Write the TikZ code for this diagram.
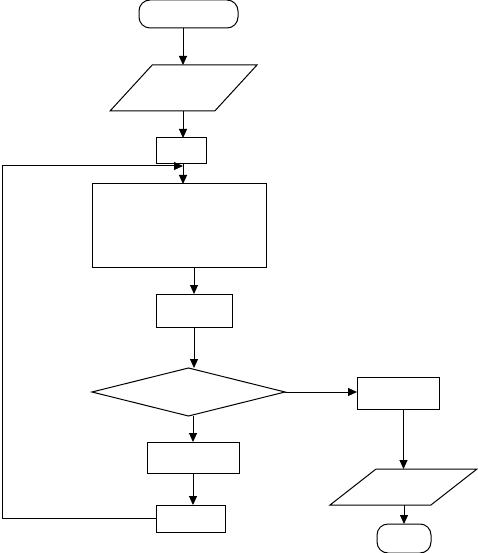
\documentclass[tikz,border=0pt]{standalone}
\usepackage{tikz}
\usetikzlibrary{arrows.meta,shapes.geometric,positioning,calc}
\tikzset{every picture/.style={line width=1pt}}
\tikzset{
    block/.style={draw, rectangle, inner sep=0pt, outer sep=0pt},
    term/.style={draw, rectangle, rounded corners=11pt, inner sep=0pt, outer sep=0pt},
    io/.style={draw, trapezium, trapezium stretches=true, inner sep=2pt, outer sep=0pt},
    test/.style={draw, diamond, inner sep=2pt, outer sep=0pt},
    arr/.style={-{Triangle[length=9pt,width=8pt]}},
}

\begin{document}
\begin{tikzpicture}[x=1pt,y=-1pt]
    \useasboundingbox (0,0) rectangle (478,553);
    % nodes
    \node[term, minimum width=99pt, minimum height=28pt] (start) at (188.5,14) {};
    \node[io, trapezium left angle=56, trapezium right angle=124,
          minimum width=147pt, minimum height=46pt] (in1) at (183.5,88) {};
    \node[block, minimum width=50pt, minimum height=26pt] (init) at (181,151) {};
    \coordinate (join) at (183,166);
    \node[block, minimum width=174pt, minimum height=83pt] (body) at (179,225.5) {};
    \node[block, minimum width=76pt, minimum height=33pt] (calc) at (194,310.5) {};
    \node[test, minimum width=193pt, minimum height=48pt] (cond) at (188.5,392) {};
    \node[block, minimum width=92pt, minimum height=31pt] (upd) at (193,457.5) {};
    \node[block, minimum width=69pt, minimum height=27pt] (nxt) at (190.5,518.5) {};
    \node[block, minimum width=82pt, minimum height=32pt] (out) at (398,393) {};
    \node[io, trapezium left angle=50, trapezium right angle=130,
          minimum width=147pt, minimum height=36pt] (res) at (403.5,487) {};
    \node[term, minimum width=54pt, minimum height=29pt] (stop) at (404,538.5) {};
    \coordinate (back) at (2,0);
    % connectors
    \draw[arr] (start.south -| join) -- (join |- in1.north);
    \draw[arr] (join |- in1.south) -- (join |- init.north);
    \draw[arr] (init.south -| join) -- (join |- body.north);
    \draw[arr] (calc.north |- body.south) -- (calc.north);
    \draw[arr] (calc.south) -- (calc.south |- cond.north);
    \draw[arr] (cond.east) -- (cond.east -| out.west);
    \draw[arr] (res.north |- out.south) -- (res.north);
    \draw[arr] (res.south -| stop.north) -- (stop.north);
    \draw[arr] (upd.north |- cond.south) -- (upd.north);
    \draw[arr] (upd.south) -- (upd.south |- nxt.north);
    \draw[arr] (nxt.west) -- (nxt.west -| back) |- (join);
\end{tikzpicture}
\end{document}
